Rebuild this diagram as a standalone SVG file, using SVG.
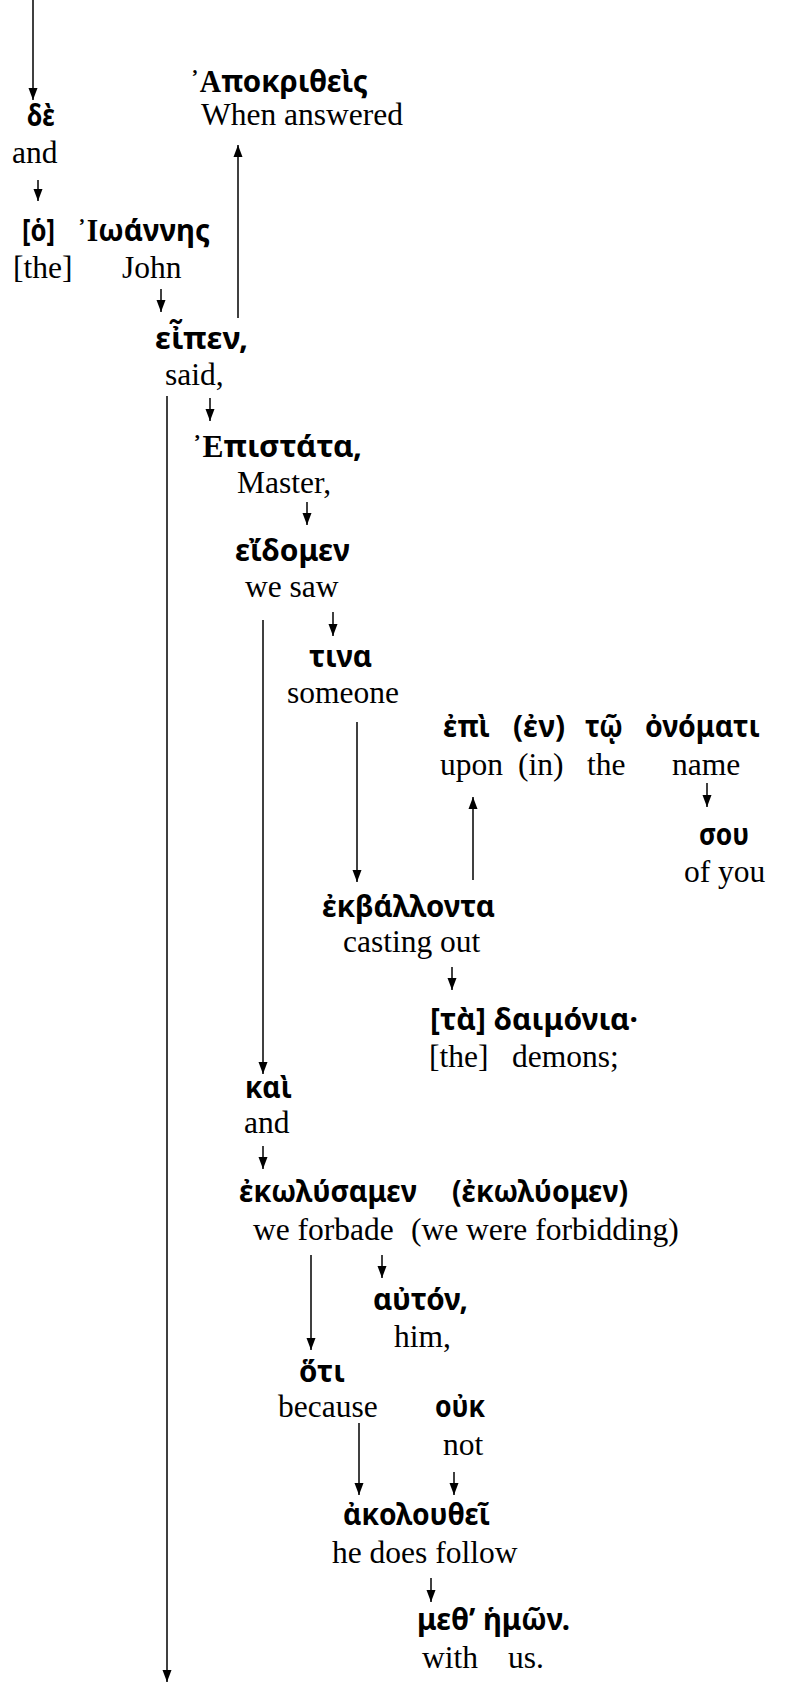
<svg xmlns="http://www.w3.org/2000/svg" width="785" height="1683" viewBox="0 0 785 1683">
<style>
.g{font-family:"Noto Sans","DejaVu Sans",sans-serif;font-weight:bold;font-size:31px;fill:#000}
.c{font-family:"Liberation Serif","DejaVu Serif",serif;font-weight:bold}
.e{font-family:"Liberation Serif","Times New Roman",serif;font-size:31.5px;fill:#000}
.ln{stroke:#000;stroke-width:1.5;fill:none;marker-end:url(#ah)}
</style>
<defs>
<marker id="ah" viewBox="0 0 12 10" markerWidth="12" markerHeight="10" refX="12" refY="5" orient="auto" markerUnits="userSpaceOnUse">
<path d="M0,0.5 L12,5 L0,9.5 z" fill="#000"/>
</marker>
</defs>
<rect width="785" height="1683" fill="#fff"/>
<g id="connectors">
<line class="ln" x1="33" y1="0" x2="33" y2="100"/>
<line class="ln" x1="38" y1="180" x2="38" y2="201"/>
<line class="ln" x1="238" y1="318" x2="238" y2="145"/>
<line class="ln" x1="161" y1="289" x2="161" y2="312"/>
<line class="ln" x1="167" y1="396" x2="167" y2="1682"/>
<line class="ln" x1="210" y1="398" x2="210" y2="421"/>
<line class="ln" x1="307" y1="502" x2="307" y2="525"/>
<line class="ln" x1="263" y1="620" x2="263" y2="1074"/>
<line class="ln" x1="333" y1="612" x2="333" y2="636"/>
<line class="ln" x1="357" y1="722" x2="357" y2="882"/>
<line class="ln" x1="473" y1="880" x2="473" y2="797"/>
<line class="ln" x1="707" y1="783" x2="707" y2="807"/>
<line class="ln" x1="452" y1="967" x2="452" y2="990"/>
<line class="ln" x1="263" y1="1146" x2="263" y2="1169"/>
<line class="ln" x1="311" y1="1255" x2="311" y2="1350"/>
<line class="ln" x1="382" y1="1255" x2="382" y2="1278"/>
<line class="ln" x1="359" y1="1423" x2="359" y2="1495"/>
<line class="ln" x1="454" y1="1472" x2="454" y2="1495"/>
<line class="ln" x1="431" y1="1578" x2="431" y2="1602"/>
</g>
<g id="n-de">
<text class="g" x="27" y="126" textLength="28" lengthAdjust="spacingAndGlyphs">δὲ</text>
<text class="e" x="12" y="163">and</text>
</g>
<g id="n-ioannes">
<text class="g" x="22" y="241" textLength="33" lengthAdjust="spacingAndGlyphs">[ὁ]</text>
<text class="g" x="77" y="241" textLength="133" lengthAdjust="spacingAndGlyphs"><tspan class="c">᾿Ι</tspan>ωάννης</text>
<text class="e" x="13" y="278">[the]</text>
<text class="e" x="122" y="278">John</text>
</g>
<g id="n-apokritheis">
<text class="g" x="190" y="92" textLength="178" lengthAdjust="spacingAndGlyphs"><tspan class="c">᾿Α</tspan>ποκριθεὶς</text>
<text class="e" x="201" y="125">When answered</text>
</g>
<g id="n-eipen">
<text class="g" x="155" y="349" textLength="93" lengthAdjust="spacingAndGlyphs">εἶπεν,</text>
<text class="e" x="165" y="385">said,</text>
</g>
<g id="n-epistata">
<text class="g" x="192" y="457" textLength="170" lengthAdjust="spacingAndGlyphs"><tspan class="c">᾿Ε</tspan>πιστάτα,</text>
<text class="e" x="237" y="493">Master,</text>
</g>
<g id="n-eidomen">
<text class="g" x="235" y="561" textLength="115" lengthAdjust="spacingAndGlyphs">εἴδομεν</text>
<text class="e" x="245" y="597">we saw</text>
</g>
<g id="n-tina">
<text class="g" x="309" y="667" textLength="63" lengthAdjust="spacingAndGlyphs">τινα</text>
<text class="e" x="287" y="703">someone</text>
</g>
<g id="n-epi">
<text class="g" x="443" y="737" textLength="47" lengthAdjust="spacingAndGlyphs">ἐπὶ</text>
<text class="g" x="513" y="737" textLength="52" lengthAdjust="spacingAndGlyphs">(ἐν)</text>
<text class="g" x="585" y="737" textLength="38" lengthAdjust="spacingAndGlyphs">τῷ</text>
<text class="g" x="645" y="737" textLength="115" lengthAdjust="spacingAndGlyphs">ὀνόματι</text>
<text class="e" x="440" y="775">upon</text>
<text class="e" x="518" y="775">(in)</text>
<text class="e" x="587" y="775">the</text>
<text class="e" x="672" y="775">name</text>
</g>
<g id="n-sou">
<text class="g" x="699" y="845" textLength="50" lengthAdjust="spacingAndGlyphs">σου</text>
<text class="e" x="684" y="882">of you</text>
</g>
<g id="n-ekballonta">
<text class="g" x="322" y="917" textLength="173" lengthAdjust="spacingAndGlyphs">ἐκβάλλοντα</text>
<text class="e" x="343" y="952">casting out</text>
</g>
<g id="n-daimonia">
<text class="g" x="430" y="1030" textLength="208" lengthAdjust="spacingAndGlyphs">[τὰ] δαιμόνια·</text>
<text class="e" x="429" y="1067">[the]</text>
<text class="e" x="512" y="1067">demons;</text>
</g>
<g id="n-kai">
<text class="g" x="245" y="1098" textLength="47" lengthAdjust="spacingAndGlyphs">καὶ</text>
<text class="e" x="244" y="1133">and</text>
</g>
<g id="n-ekolysamen">
<text class="g" x="239" y="1202" textLength="178" lengthAdjust="spacingAndGlyphs">ἐκωλύσαμεν</text>
<text class="g" x="452" y="1202" textLength="176" lengthAdjust="spacingAndGlyphs">(ἐκωλύομεν)</text>
<text class="e" x="253" y="1240">we forbade</text>
<text class="e" x="411" y="1240">(we were forbidding)</text>
</g>
<g id="n-auton">
<text class="g" x="373" y="1310" textLength="95" lengthAdjust="spacingAndGlyphs">αὐτόν,</text>
<text class="e" x="394" y="1347">him,</text>
</g>
<g id="n-hoti">
<text class="g" x="299" y="1382" textLength="46" lengthAdjust="spacingAndGlyphs">ὅτι</text>
<text class="e" x="278" y="1417">because</text>
</g>
<g id="n-ouk">
<text class="g" x="435" y="1417" textLength="50" lengthAdjust="spacingAndGlyphs">οὐκ</text>
<text class="e" x="443" y="1455">not</text>
</g>
<g id="n-akolouthei">
<text class="g" x="343" y="1525" textLength="147" lengthAdjust="spacingAndGlyphs">ἀκολουθεῖ</text>
<text class="e" x="332" y="1563">he does follow</text>
</g>
<g id="n-meth">
<text class="g" x="417" y="1630" textLength="153" lengthAdjust="spacingAndGlyphs">μεθ’ ἡμῶν.</text>
<text class="e" x="422" y="1668">with</text>
<text class="e" x="508" y="1668">us.</text>
</g>
</svg>
